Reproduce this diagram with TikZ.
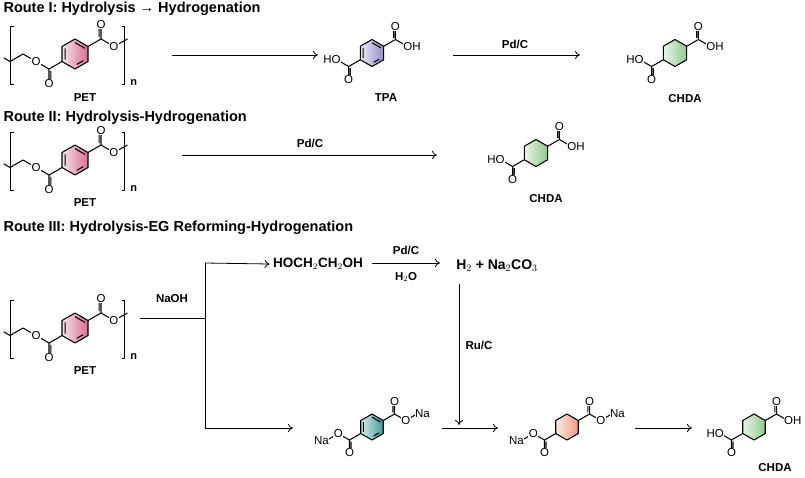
\documentclass[tikz,border=0pt]{standalone}
\usepackage{fontspec}
\setmainfont{Liberation Sans}
\usetikzlibrary{arrows.meta}
\definecolor{cpet}{HTML}{D9708F}
\definecolor{ctpa}{HTML}{8F8FC8}
\definecolor{cgrn}{HTML}{8FC88A}
\definecolor{cteal}{HTML}{3F9A9A}
\definecolor{cpch}{HTML}{F29A80}
\tikzset{
 bond/.style={line width=1.05pt,line join=round},
 atom/.style={font=\fontsize{11.5}{12}\selectfont,inner sep=0.4pt,fill=white},
 lab/.style={font=\bfseries\fontsize{11.5}{13}\selectfont},
 ttl/.style={font=\bfseries\fontsize{14.5}{16}\selectfont,anchor=west},
 arr/.style={-{To[length=5pt,width=8pt]},line width=0.8pt},
}
% #1 x, #2 y, #3 colour, #4 aromatic, #5 bond length (pt)
\newcommand\hexring[5]{%
 \begin{scope}[shift={(#1,#2)},x=#5pt,y=#5pt]
 \fill[left color=#3!20,right color=#3] (90:1)--(30:1)--(-30:1)--(-90:1)--(-150:1)--(150:1)--cycle;
 \draw[bond] (90:1)--(30:1)--(-30:1)--(-90:1)--(-150:1)--(150:1)--cycle;
 \ifnum#4=1
 \draw[bond,shorten >=2pt,shorten <=2pt] (150:.76)--(-150:.76) (90:.76)--(30:.76) (-30:.76)--(-90:.76);
 \fi
 \end{scope}}
\newcommand\carb[3]{%
 \begin{scope}[shift={(#1,#2)},x=#3pt,y=#3pt]
 \draw[bond] (30:1)--(1.732,1)--(1.732,1.8) (1.612,1.12)--(1.612,1.75) (1.732,1)--(2.598,.5);
 \draw[bond] (-150:1)--(-1.732,-1)--(-1.732,-1.8) (-1.612,-1.12)--(-1.612,-1.75) (-1.732,-1)--(-2.598,-.5);
 \node[atom] at (1.732,1.98) {O};
 \node[atom] at (-1.732,-1.98) {O};
 \end{scope}}
\newcommand\acid[5]{\hexring{#1}{#2}{#3}{#4}{#5}\carb{#1}{#2}{#5}%
 \begin{scope}[shift={(#1,#2)},x=#5pt,y=#5pt]
 \node[atom,anchor=west,xshift=-4.3pt] at (2.598,.5) {OH};
 \node[atom,anchor=east,xshift=4.3pt] at (-2.598,-.5) {HO};
 \end{scope}}
\newcommand\sodium[5]{\hexring{#1}{#2}{#3}{#4}{#5}\carb{#1}{#2}{#5}%
 \begin{scope}[shift={(#1,#2)},x=#5pt,y=#5pt]
 \draw[bond] (2.598,.5)--(3.35,.95) (-2.598,-.5)--(-3.35,-.95);
 \node[atom] at (2.598,.5) {O};
 \node[atom] at (-2.598,-.5) {O};
 \node[atom,anchor=west,xshift=-1pt] at (3.35,1.05) {Na};
 \node[atom,anchor=east,xshift=1pt] at (-3.35,-1.05) {Na};
 \end{scope}}
\newcommand\pet[2]{\hexring{#1}{#2}{cpet}{1}{15}\carb{#1}{#2}{15}%
 \begin{scope}[shift={(#1,#2)},x=15pt,y=15pt]
 \draw[bond] (2.598,.5)--(3.5,1.0) (-2.598,-.5)--(-3.464,0)--(-4.33,-.5)--(-4.75,-.25);
 \node[atom] at (2.598,.5) {O};
 \node[atom] at (-2.598,-.5) {O};
 \draw[bond] (-4.1,1.85)--(-4.33,1.85)--(-4.33,-2.05)--(-4.1,-2.05);
 \draw[bond] (3.1,1.85)--(3.33,1.85)--(3.33,-2.05)--(3.1,-2.05);
 \node[font=\bfseries\fontsize{11}{11}\selectfont,anchor=west] at (3.45,-1.9) {n};
 \end{scope}}
\begin{document}
\begin{tikzpicture}[x=1pt,y=-1pt]
\useasboundingbox (0,0) rectangle (805,477);
% Route I
\node[ttl] (t1) at (0,9) {Route I: Hydrolysis → Hydrogenation};
\pet{75}{54}
\node[lab] (pet1) at (85,98) {PET};
\coordinate (a1s) at (172,55); \coordinate (a1e) at (318,55);
\draw[arr] (a1s)--(a1e);
\acid{372}{53}{ctpa}{1}{13.5}
\node[lab] (tpa) at (386,98) {TPA};
\coordinate (a2s) at (453,55); \coordinate (a2e) at (580,55);
\draw[arr] (a2s)--(a2e);
\node[lab] (pd1) at (515,44) {Pd/C};
\acid{675}{53}{cgrn}{0}{13.5}
\node[lab] (chda1) at (685,99) {CHDA};
% Route II
\node[ttl] (t2) at (0,118) {Route II: Hydrolysis-Hydrogenation};
\pet{75}{160}
\node[lab] (pet2) at (85,203) {PET};
\coordinate (b1s) at (182,155); \coordinate (b1e) at (437,155);
\draw[arr] (b1s)--(b1e);
\node[lab] (pd2) at (310,143) {Pd/C};
\acid{536}{153}{cgrn}{0}{13.5}
\node[lab] (chda2) at (546,199) {CHDA};
% Route III
\node[ttl] (t3) at (0,228) {Route III: Hydrolysis-EG Reforming-Hydrogenation};
\pet{75}{328}
\node[lab] (pet3) at (85,371) {PET};
\coordinate (j) at (205,318);
\coordinate (n0) at (140,318);
\draw[line width=0.8pt] (n0)--(j);
\node[lab] (naoh) at (172,299) {NaOH};
\coordinate (jt) at (205,263); \coordinate (jb) at (205,428);
\draw[line width=0.8pt] (jt)--(jb);
\node[font=\fontsize{13.5}{14}\selectfont\bfseries] (eg) at (318,264) {HOCH$_2$CH$_2$OH};
\draw[arr] (jt)--(eg.west);
\coordinate (c1s) at (372,263); \coordinate (c1e) at (440,263);
\draw[arr] (c1s)--(c1e);
\node[lab] (pd3) at (406,250) {Pd/C};
\node[lab] (h2o) at (406,277) {H$_2$O};
\node[font=\fontsize{14}{15}\selectfont\bfseries] (h2) at (497,266) {H$_2$ + Na$_2$CO$_3$};
\coordinate (vs) at (459,284); \coordinate (ve) at (459,425);
\draw[arr] (vs)--(ve);
\node[lab] (ru) at (479,345) {Ru/C};
\coordinate (jbe) at (293,428);
\draw[arr] (jb)--(jbe);
\sodium{372}{427}{cteal}{1}{13}
\coordinate (d1s) at (442,428); \coordinate (d1e) at (498,428);
\draw[arr] (d1s)--(d1e);
\sodium{567}{427}{cpch}{0}{13}
\coordinate (d2s) at (635,428); \coordinate (d2e) at (692,428);
\draw[arr] (d2s)--(d2e);
\acid{754}{427}{cgrn}{0}{13}
\node[lab] (chda3) at (775,468) {CHDA};
\end{tikzpicture}
\end{document}
